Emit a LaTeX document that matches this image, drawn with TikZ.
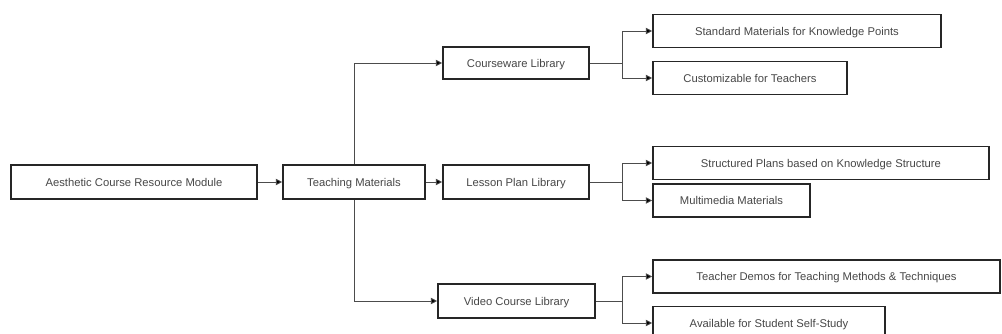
\documentclass[tikz,border=0pt]{standalone}
\usepackage{fontspec}
\setmainfont{Liberation Sans}
\usetikzlibrary{arrows.meta}

\begin{document}
\begin{tikzpicture}[x=0.02cm,y=-0.02cm,
  box/.style={draw=black!85,line width=0.95pt,fill=white,text=black!72,inner sep=0pt,
    font=\fontsize{6.4}{7.6}\selectfont,text height=4.6pt,text depth=0pt,minimum height=0.66cm},
  conn/.style={draw=black!70,line width=0.5pt,-{Triangle[length=3.6pt,width=3.6pt,fill=black]}}]
\useasboundingbox (0,0) rectangle (1002,334);
\node[box,minimum width=4.92cm,minimum height=0.68cm] (mod) at (134,182) {Aesthetic Course Resource Module};
\node[box,minimum width=2.84cm,minimum height=0.68cm] (teach) at (354,182) {Teaching Materials};
\node[box,minimum width=2.92cm,minimum height=0.64cm] (cw) at (516,63) {Courseware Library};
\node[box,minimum width=2.92cm,minimum height=0.68cm] (lp) at (516,182) {Lesson Plan Library};
\node[box,minimum width=3.14cm,minimum height=0.68cm] (vid) at (516.5,301) {Video Course Library};
\node[box,minimum width=5.76cm] (std) at (797,31) {Standard Materials for Knowledge Points};
\node[box,minimum width=3.88cm] (cust) at (750,78) {Customizable for Teachers};
\node[box,minimum width=6.72cm] (struct) at (821,163) {Structured Plans based on Knowledge Structure};
\node[box,minimum width=3.14cm] (multi) at (731.5,200.5) {Multimedia Materials};
\node[box,minimum width=6.94cm] (demo) at (826.5,276.5) {Teacher Demos for Teaching Methods \& Techniques};
\node[box,minimum width=4.64cm] (avail) at (769,323) {Available for Student Self-Study};
\draw[conn] (mod) -- (teach);
\draw[conn] (teach) -- (lp);
\draw[conn] (teach) |- (cw);
\draw[conn] (teach) |- (vid);
\foreach \p/\a/\b/\y in {cw/std/cust/63,lp/struct/multi/182,vid/demo/avail/301}
  {\coordinate (\p fork) at (622,\y);
   \draw[draw=black!70,line width=0.5pt] (\p) -- (\p fork);
   \draw[conn] (\p fork) |- (\a);
   \draw[conn] (\p fork) |- (\b);}
\end{tikzpicture}
\end{document}
